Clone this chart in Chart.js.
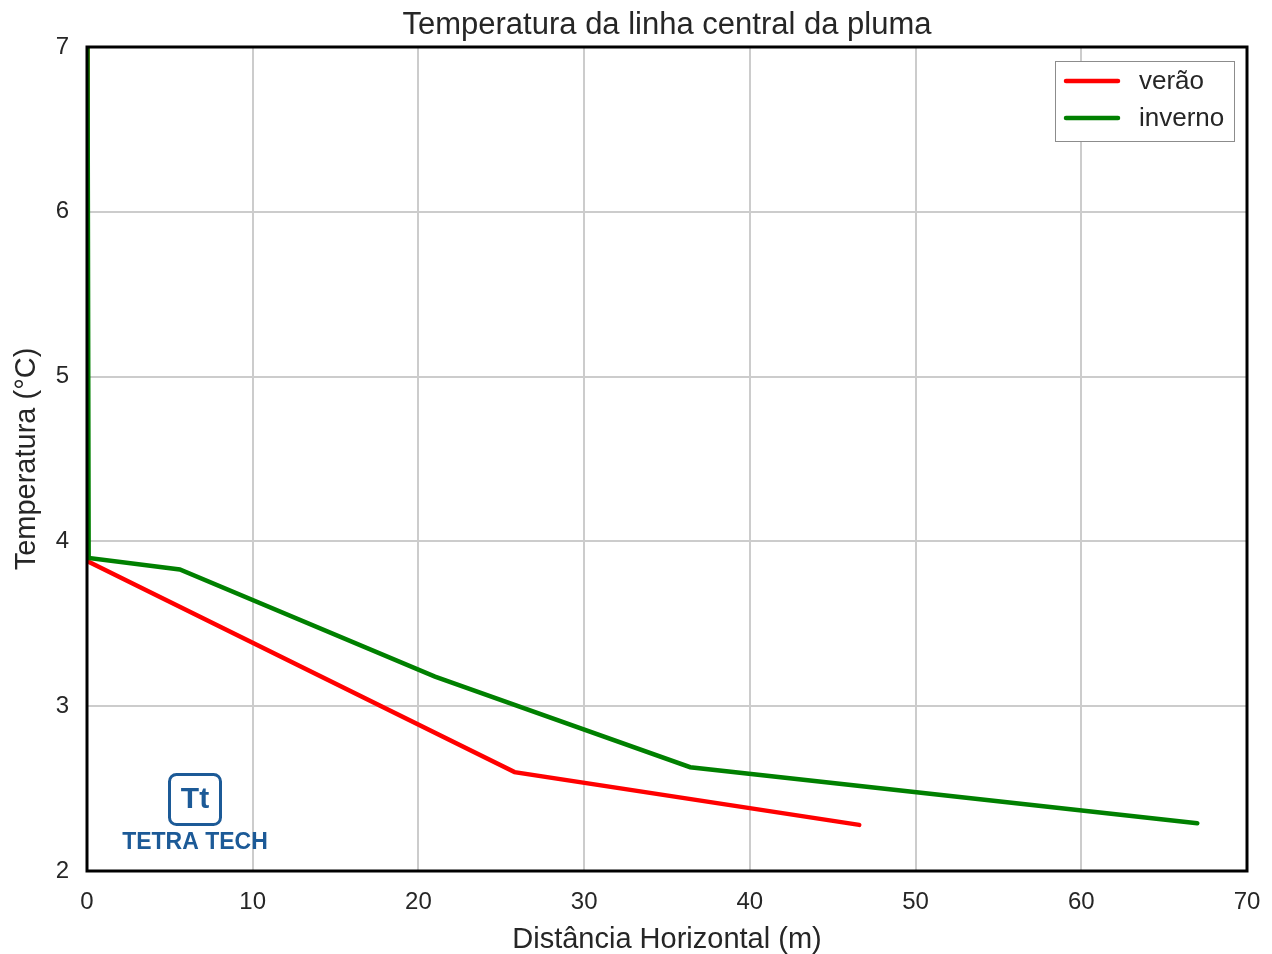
<!DOCTYPE html>
<html>
<head>
<meta charset="utf-8">
<script src="https://cdn.jsdelivr.net/npm/chart.js@4.4.0/dist/chart.umd.min.js"></script>
<style>
  html, body { margin: 0; padding: 0; background: #fff; }
  #wrap { width: 1272px; height: 954px; }
</style>
</head>
<body>
<div id="wrap"><canvas id="plumaChart" width="1272" height="954"></canvas></div>
<script>
// dados
var veraoX = [0.03, 0.03, 25.8, 46.6];
var veraoY = [7.0, 3.88, 2.60, 2.28];
var invernoX = [0.03, 0.1, 5.6, 21.0, 36.4, 67.0];
var invernoY = [7.0, 3.90, 3.83, 3.18, 2.63, 2.29];
var xTicks = [0, 10, 20, 30, 40, 50, 60, 70];
var yTicks = [2, 3, 4, 5, 6, 7];

var FONT = "'Liberation Sans', Arial, sans-serif";
var TXT = '#262626';

function pts(xs, ys) {
    return xs.map(function (x, i) { return { x: x, y: ys[i] }; });
}

// moldura, título, legenda e logótipo
var extras = {
    id: 'extras',
    afterDraw: function (chart) {
        var ctx = chart.ctx, a = chart.chartArea;
        ctx.save();
        ctx.strokeStyle = '#000';
        ctx.lineWidth = 3;
        ctx.strokeRect(a.left, a.top, a.right - a.left, a.bottom - a.top);

        ctx.fillStyle = TXT;
        ctx.font = '31px ' + FONT;
        ctx.textAlign = 'center';
        ctx.textBaseline = 'middle';
        ctx.fillText('Temperatura da linha central da pluma', (a.left + a.right) / 2, 25);

        // legenda
        ctx.fillStyle = '#fff';
        ctx.fillRect(1055.5, 61.5, 179, 80);
        ctx.strokeStyle = '#8c8c8c';
        ctx.lineWidth = 1;
        ctx.strokeRect(1055.5, 61.5, 179, 80);
        var items = [['verão', '#ff0000', 81], ['inverno', '#008000', 118]];
        items.forEach(function (it) {
            ctx.strokeStyle = it[1];
            ctx.lineWidth = 4.5;
            ctx.lineCap = 'round';
            ctx.beginPath();
            ctx.moveTo(1066, it[2]);
            ctx.lineTo(1118, it[2]);
            ctx.stroke();
            ctx.fillStyle = TXT;
            ctx.font = '26px ' + FONT;
            ctx.textAlign = 'left';
            ctx.fillText(it[0], 1139, it[2] + 1);
        });

        // logótipo Tetra Tech
        var blue = '#1c5a97';
        ctx.strokeStyle = blue;
        ctx.lineWidth = 3;
        ctx.lineCap = 'butt';
        ctx.beginPath();
        ctx.roundRect(169.5, 774.5, 51, 50, 7);
        ctx.stroke();
        ctx.fillStyle = blue;
        ctx.font = 'bold 30px ' + FONT;
        ctx.textAlign = 'center';
        ctx.fillText('Tt', 195, 800);
        ctx.font = 'bold 23px ' + FONT;
        ctx.fillText('TETRA TECH', 195, 843);
        ctx.restore();
    }
};

new Chart(document.getElementById('plumaChart').getContext('2d'), {
    type: 'line',
    data: {
        datasets: [
            {
                label: 'verão',
                data: pts(veraoX, veraoY),
                borderColor: '#ff0000',
                borderWidth: 4.5,
                pointRadius: 0,
                fill: false,
                tension: 0,
                borderCapStyle: 'round',
                order: 2
            },
            {
                label: 'inverno',
                data: pts(invernoX, invernoY),
                borderColor: '#008000',
                borderWidth: 4.5,
                pointRadius: 0,
                fill: false,
                tension: 0,
                borderCapStyle: 'round',
                order: 1
            }
        ]
    },
    options: {
        responsive: false,
        animation: false,
        layout: { padding: { top: 47, right: 25, left: 0, bottom: 0 } },
        plugins: {
            legend: { display: false },
            title: { display: false },
            tooltip: { enabled: false }
        },
        scales: {
            x: {
                type: 'linear',
                min: 0,
                max: 70,
                afterBuildTicks: function (s) { s.ticks = xTicks.map(function (v) { return { value: v }; }); },
                afterFit: function (s) { s.height = 83; s.paddingLeft = 0; s.paddingRight = 0; },
                grid: { color: '#cccccc', lineWidth: 2, drawTicks: false },
                border: { display: false },
                ticks: { color: TXT, font: { family: FONT, size: 24 }, padding: 17, maxRotation: 0 },
                title: {
                    display: true,
                    text: 'Distância Horizontal (m)',
                    color: TXT,
                    font: { family: FONT, size: 29 },
                    padding: { top: 0, bottom: -3 }
                }
            },
            y: {
                type: 'linear',
                min: 2,
                max: 7,
                afterBuildTicks: function (s) { s.ticks = yTicks.map(function (v) { return { value: v }; }); },
                afterFit: function (s) { s.width = 87; s.paddingTop = 0; s.paddingBottom = 0; },
                grid: { color: '#cccccc', lineWidth: 2, drawTicks: false },
                border: { display: false },
                ticks: { color: TXT, font: { family: FONT, size: 24 }, padding: 18 },
                title: {
                    display: true,
                    text: 'Temperatura (°C)',
                    color: TXT,
                    font: { family: FONT, size: 29 },
                    padding: { top: 10, bottom: 0 }
                }
            }
        }
    },
    plugins: [extras]
});
</script>
</body>
</html>
